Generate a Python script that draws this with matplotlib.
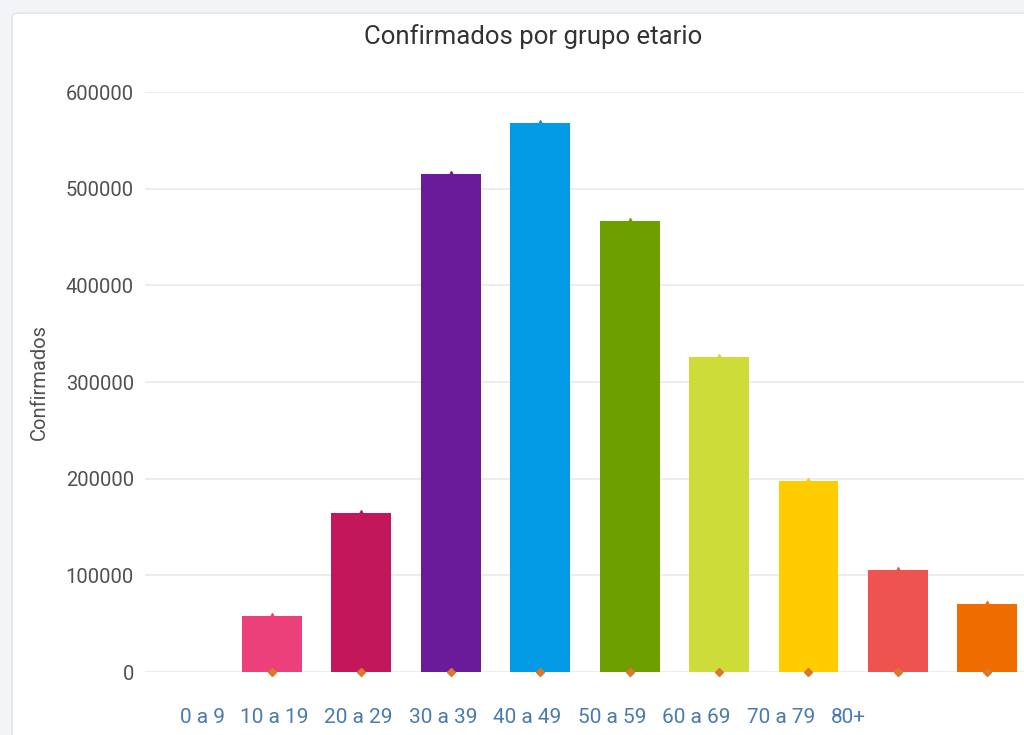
import matplotlib
matplotlib.use("Agg")
import matplotlib.pyplot as plt
from matplotlib.patches import FancyBboxPatch
import numpy as np

plt.rcParams['font.family'] = ['Roboto', 'DejaVu Sans']

# data
slot_values = [0, 58000, 165000, 515000, 568000, 467000, 326000, 198000, 106000, 70000]
bar_colors = ['#ffffff', '#ec407a', '#c2185b', '#6a1b9a', '#039be5',
              '#6d9f00', '#cddc39', '#ffcc00', '#ef5350', '#ef6c00']
tick_labels = ['0 a 9', '10 a 19', '20 a 29', '30 a 39', '40 a 49',
               '50 a 59', '60 a 69', '70 a 79', '80+']
# label positions (the reference renders labels offset from bars)
label_pos = [0.22, 1.03, 1.96, 2.91, 3.85, 4.80, 5.75, 6.69, 7.45]
y_ticks = [0, 100000, 200000, 300000, 400000, 500000, 600000]

fig = plt.figure(figsize=(10.24, 7.35), dpi=100)
fig.patch.set_facecolor('#f3f4f7')
card = FancyBboxPatch((12 / 1024, -0.05), 1.2, (735 - 13) / 735 + 0.05,
                      boxstyle="round,pad=0,rounding_size=0.006",
                      transform=fig.transFigure, facecolor='white',
                      edgecolor='#e3e5ea', linewidth=1.2, zorder=-5)
fig.patches.append(card)

ax = fig.add_axes([145 / 1024, (735 - 672) / 735, (1024 - 145) / 1024, (672 - 92) / 735])
ax.set_facecolor('none')
ax.set_zorder(1)
x = np.arange(len(slot_values))
ax.bar(x, slot_values, width=0.67, color=bar_colors, zorder=2)
# small markers at top and bottom of bars
for i in range(1, len(slot_values)):
    ax.plot(x[i], slot_values[i], marker='^', markersize=5, color=bar_colors[i],
            markeredgecolor=bar_colors[i], zorder=3, clip_on=False)
ax.plot(x[1:], [0] * (len(x) - 1), linestyle='none', marker='D', markersize=4.5,
        color='#d9782d', zorder=3, clip_on=False)

ax.set_xlim(-0.42, 9.41)
ax.set_ylim(0, 600000)
ax.set_yticks(y_ticks)
ax.set_yticklabels([str(v) for v in y_ticks])
ax.grid(axis='y', color='#e8e8ea', linewidth=1.1, zorder=0)
ax.set_axisbelow(True)
for s in ax.spines.values():
    s.set_visible(False)
ax.tick_params(axis='y', length=0, pad=8, labelsize=14.5, labelcolor='#505050')
ax.set_xticks(label_pos)
ax.set_xticklabels(tick_labels)
ax.tick_params(axis='x', length=0, pad=26, labelsize=15, labelcolor='#4a7bb0')
ax.set_ylabel('Confirmados', fontsize=14.5, color='#505050', labelpad=12)

fig.text(533 / 1024, 1 - 37 / 735, 'Confirmados por grupo etario', ha='center', va='center',
         fontsize=18.5, color='#333333')

fig.savefig('out.png', dpi=100, facecolor=fig.get_facecolor())
